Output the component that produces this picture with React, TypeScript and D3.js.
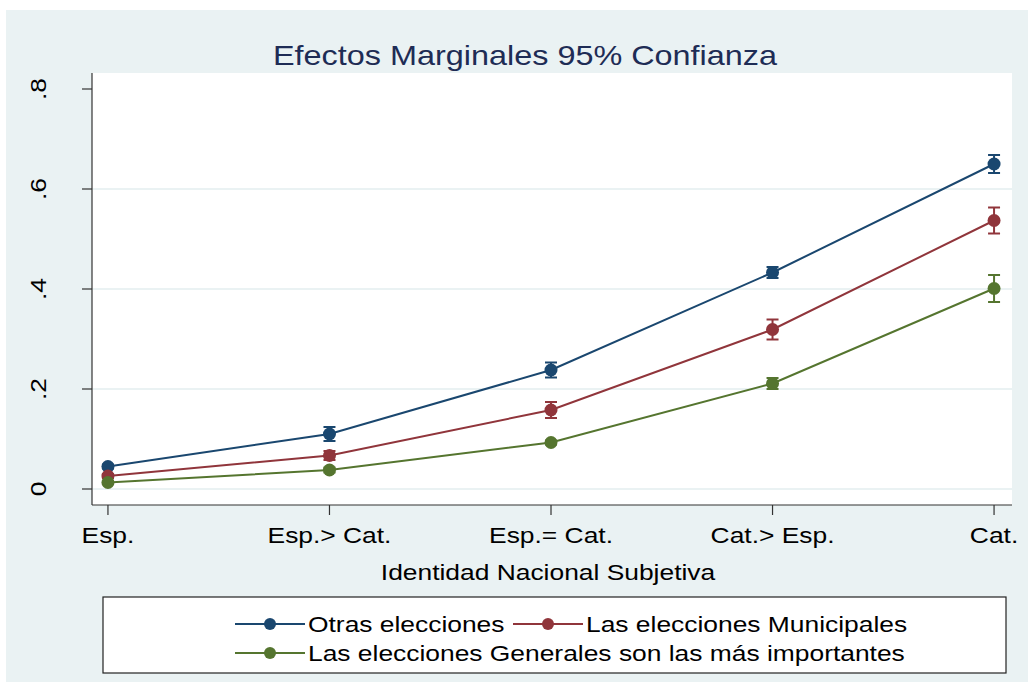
import React from "react";
import * as d3 from "d3";

// categories on the x axis (subjective national identity)
const categories = ["Esp.", "Esp.> Cat.", "Esp.= Cat.", "Cat.> Esp.", "Cat."];

// marginal effects and half-width of the 95% CI, per series
const otras = [0.045, 0.11, 0.238, 0.433, 0.65];
const otrasCI = [0.004, 0.014, 0.015, 0.011, 0.018];
const municipales = [0.026, 0.067, 0.158, 0.319, 0.537];
const municipalesCI = [0.004, 0.009, 0.016, 0.02, 0.026];
const generales = [0.013, 0.038, 0.093, 0.211, 0.401];
const generalesCI = [0.003, 0.005, 0.004, 0.011, 0.027];

const yTicks = [0, 0.2, 0.4, 0.6, 0.8];
const yTickLabels = ["0", ".2", ".4", ".6", ".8"];

const seriesNames = [
  "Otras elecciones",
  "Las elecciones Municipales",
  "Las elecciones Generales son las más importantes",
];
const colors = ["#1a476f", "#90353b", "#55752f"];

const W = 1028;
const H = 682;
const FONT = "'Liberation Sans', Arial, Helvetica, sans-serif";
const SX = 1.2; // Stata text comes out a bit wide

// text helper, stretched horizontally along its own direction
const T = ({ x, y, rot = 0, size, anchor = "start", fill = "#000", children }: any) => (
  <text
    transform={`translate(${x},${y}) rotate(${rot}) scale(${SX},1)`}
    fontSize={size}
    fontFamily={FONT}
    textAnchor={anchor}
    fill={fill}
  >
    {children}
  </text>
);

const App = () => {
  // plot region
  const left = 92;
  const right = 1012;
  const top = 73;
  const bottom = 505;

  const x = d3.scaleLinear().domain([0.928, 5.081]).range([left, right]);
  const y = d3.scaleLinear().domain([0, 0.8]).range([489, 89]);

  const series = [
    { values: otras, ci: otrasCI },
    { values: municipales, ci: municipalesCI },
    { values: generales, ci: generalesCI },
  ];

  const line = d3
    .line<number>()
    .x((_, i) => x(i + 1))
    .y((d) => y(d));

  // legend line start x and row y for each entry
  const legendX = [235, 513, 235];
  const rowY = [624, 624, 653];

  return (
    <svg
      width={W}
      height={H}
      style={{ position: "absolute", left: 0, top: 0, background: "#fff" }}
    >
      {/* graph background */}
      <rect x={6} y={10} width={W - 6} height={H - 10} fill="#eaf2f3" />
      {/* plot region */}
      <rect x={left} y={top} width={right - left} height={bottom - top} fill="#fff" />

      {/* grid lines */}
      {yTicks
        .filter((t) => t < 0.8)
        .map((t) => (
          <line
            key={"g" + t}
            x1={left}
            x2={right}
            y1={y(t)}
            y2={y(t)}
            stroke="#eaf2f3"
            strokeWidth={2}
          />
        ))}

      {/* axes */}
      <line x1={left} x2={left} y1={top} y2={bottom} stroke="#333" strokeWidth={1.2} />
      <line x1={left} x2={right} y1={bottom} y2={bottom} stroke="#333" strokeWidth={1.2} />

      {yTicks.map((t, i) => (
        <g key={"y" + t}>
          <line x1={left - 10} x2={left} y1={y(t)} y2={y(t)} stroke="#333" strokeWidth={1.2} />
          <T x={46} y={y(t)} rot={-90} size={22} anchor="middle">
            {yTickLabels[i]}
          </T>
        </g>
      ))}

      {categories.map((c, i) => (
        <g key={c}>
          <line
            x1={x(i + 1)}
            x2={x(i + 1)}
            y1={bottom}
            y2={bottom + 10}
            stroke="#333"
            strokeWidth={1.2}
          />
          <T x={x(i + 1)} y={543} size={22} anchor="middle">
            {c}
          </T>
        </g>
      ))}

      <T x={548} y={580} size={22} anchor="middle">
        Identidad Nacional Subjetiva
      </T>
      <T x={525} y={65} size={27} anchor="middle" fill="#1e2c55">
        Efectos Marginales 95% Confianza
      </T>

      {/* series */}
      {series.map((s, k) => (
        <g key={"s" + k}>
          <path d={line(s.values) || ""} fill="none" stroke={colors[k]} strokeWidth={2} />
          {s.values.map((v, i) => {
            const cx = x(i + 1);
            const y0 = y(v - s.ci[i]);
            const y1 = y(v + s.ci[i]);
            return (
              <g key={i}>
                <line x1={cx} x2={cx} y1={y0} y2={y1} stroke={colors[k]} strokeWidth={2} />
                <line x1={cx - 6} x2={cx + 6} y1={y0} y2={y0} stroke={colors[k]} strokeWidth={2} />
                <line x1={cx - 6} x2={cx + 6} y1={y1} y2={y1} stroke={colors[k]} strokeWidth={2} />
                <circle cx={cx} cy={y(v)} r={6.5} fill={colors[k]} />
              </g>
            );
          })}
        </g>
      ))}

      {/* legend */}
      <rect x={103} y={597} width={903} height={76} fill="#fff" stroke="#222" strokeWidth={1.2} />
      {seriesNames.map((n, k) => {
        const lx = legendX[k];
        const ly = rowY[k];
        return (
          <g key={n}>
            <line x1={lx} x2={lx + 70} y1={ly} y2={ly} stroke={colors[k]} strokeWidth={2} />
            <circle cx={lx + 35} cy={ly} r={6} fill={colors[k]} />
            <T x={lx + 73} y={ly + 8} size={22}>
              {n}
            </T>
          </g>
        );
      })}
    </svg>
  );
};

export default App;
